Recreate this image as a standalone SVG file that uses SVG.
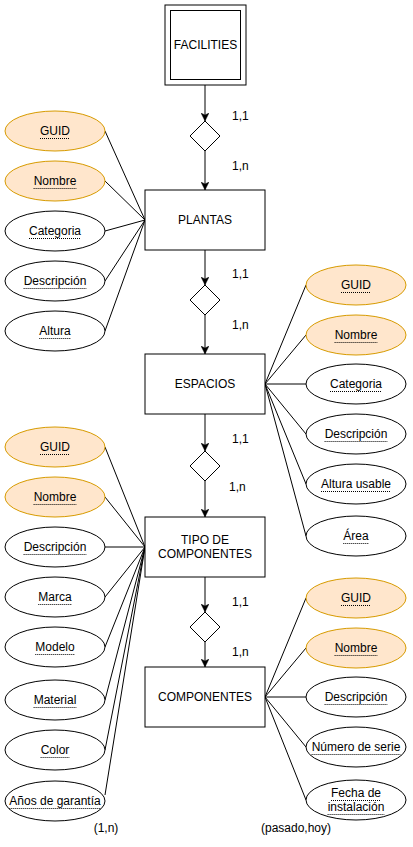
<svg xmlns="http://www.w3.org/2000/svg" width="413" height="847" viewBox="0 0 413 847">
<style>
  text { font-family: "Liberation Sans", Arial, sans-serif; font-size: 12px; fill: #000; text-anchor: middle; dominant-baseline: central; }
  .lbl { text-anchor: start; }
  .ul { stroke: #000; stroke-width: 1; stroke-dasharray: 1 1; fill: none; }
  .ent { fill: #fff; stroke: #000; stroke-width: 1; }
  .rel { fill: #fff; stroke: #000; stroke-width: 1; }
  .att { fill: #fff; stroke: #000; stroke-width: 1; }
  .key { fill: #ffe6cc; stroke: #d79b00; stroke-width: 1; }
  .edge { stroke: #000; stroke-width: 1; fill: none; }
  .arr { stroke: #000; stroke-width: 1; fill: none; marker-end: url(#ah); }
</style>
<defs>
  <marker id="ah" viewBox="0 0 10 10" refX="10" refY="5" markerWidth="8" markerHeight="8" markerUnits="userSpaceOnUse" orient="auto">
    <path d="M0,0 L10,5 L0,10 L2.5,5 Z" fill="#000" stroke="#000" stroke-width="0.5"/>
  </marker>
</defs>
<rect width="413" height="847" fill="#fff"/>

<g id="connectors">
  <path class="arr" d="M205,85 V121"/>
  <path class="arr" d="M205,151 V190"/>
  <path class="arr" d="M205,250 V285"/>
  <path class="arr" d="M205,315 V354"/>
  <path class="arr" d="M205,414 V451"/>
  <path class="arr" d="M205,481 V517"/>
  <path class="arr" d="M205,577 V612"/>
  <path class="arr" d="M205,642 V667"/>
  <path class="edge" d="M105,131 L145,220"/>
  <path class="edge" d="M105,181 L145,220"/>
  <path class="edge" d="M105,231 L145,220"/>
  <path class="edge" d="M105,281 L145,220"/>
  <path class="edge" d="M105,331 L145,220"/>
  <path class="edge" d="M265,384 L306,285"/>
  <path class="edge" d="M265,384 L306,335"/>
  <path class="edge" d="M265,384 L306,384"/>
  <path class="edge" d="M265,384 L306,434"/>
  <path class="edge" d="M265,384 L306,484"/>
  <path class="edge" d="M265,384 L306,536"/>
  <path class="edge" d="M105,447 L145,547"/>
  <path class="edge" d="M105,497 L145,547"/>
  <path class="edge" d="M105,547 L145,547"/>
  <path class="edge" d="M105,597 L145,547"/>
  <path class="edge" d="M105,647 L145,547"/>
  <path class="edge" d="M105,700 L145,547"/>
  <path class="edge" d="M105,750 L145,547"/>
  <path class="edge" d="M105,795 L145,547"/>
  <path class="edge" d="M265,697 L306,598"/>
  <path class="edge" d="M265,697 L306,648"/>
  <path class="edge" d="M265,697 L306,697"/>
  <path class="edge" d="M265,697 L306,747"/>
  <path class="edge" d="M265,697 L306,800"/>
</g>

<g id="labels">
  <text class="lbl" x="232" y="116">1,1</text>
  <text class="lbl" x="232" y="166">1,n</text>
  <text class="lbl" x="232" y="274">1,1</text>
  <text class="lbl" x="232" y="325">1,n</text>
  <text class="lbl" x="232" y="439">1,1</text>
  <text class="lbl" x="229" y="487">1,n</text>
  <text class="lbl" x="232" y="602">1,1</text>
  <text class="lbl" x="232" y="652">1,n</text>
  <text x="106" y="828">(1,n)</text>
  <text x="296" y="828">(pasado,hoy)</text>
</g>

<g id="facilities">
  <rect class="ent" x="165" y="5" width="81" height="80"/>
  <rect class="ent" x="170.5" y="10.5" width="70" height="69"/>
  <text x="205.5" y="45">FACILITIES</text>
</g>
<g id="rel1"><path class="rel" d="M205,121 L220,136 L205,151 L190,136 Z"/></g>
<g id="plantas">
  <rect class="ent" x="145" y="190" width="120" height="60"/>
  <text x="205" y="220">PLANTAS</text>
</g>
<g id="rel2"><path class="rel" d="M205,285 L220,300 L205,315 L190,300 Z"/></g>
<g id="espacios">
  <rect class="ent" x="145" y="354" width="120" height="60"/>
  <text x="205" y="384">ESPACIOS</text>
</g>
<g id="rel3"><path class="rel" d="M205,451 L220,466 L205,481 L190,466 Z"/></g>
<g id="tipo">
  <rect class="ent" x="145" y="517" width="120" height="60"/>
  <text x="205" y="540">TIPO DE</text>
  <text x="205" y="554">COMPONENTES</text>
</g>
<g id="rel4"><path class="rel" d="M205,612 L220,627 L205,642 L190,627 Z"/></g>
<g id="componentes">
  <rect class="ent" x="145" y="667" width="120" height="60"/>
  <text x="205" y="697">COMPONENTES</text>
</g>

<g id="p-guid"><ellipse class="key" cx="55" cy="131" rx="50" ry="20"/><text x="55" y="131">GUID</text><path class="ul" d="M40,138.5 h30"/></g>
<g id="p-nombre"><ellipse class="key" cx="55" cy="181" rx="50" ry="20"/><text x="55" y="181">Nombre</text><path class="ul" d="M33.6,188.5 h42.7"/></g>
<g id="p-categoria"><ellipse class="att" cx="55" cy="231" rx="50" ry="20"/><text x="55" y="231">Categoria</text><path class="ul" d="M29,238.5 h52"/></g>
<g id="p-descripcion"><ellipse class="att" cx="55" cy="281" rx="50" ry="20"/><text x="55" y="281">Descripción</text><path class="ul" d="M23.6,288.5 h62.7"/></g>
<g id="p-altura"><ellipse class="att" cx="55" cy="331" rx="50" ry="20"/><text x="55" y="331">Altura</text><path class="ul" d="M39.3,338.5 h31.3"/></g>

<g id="e-guid"><ellipse class="key" cx="356" cy="285" rx="50" ry="20"/><text x="356" y="285">GUID</text><path class="ul" d="M341,292.5 h30"/></g>
<g id="e-nombre"><ellipse class="key" cx="356" cy="335" rx="50" ry="20"/><text x="356" y="335">Nombre</text><path class="ul" d="M334.6,342.5 h42.7"/></g>
<g id="e-categoria"><ellipse class="att" cx="356" cy="384" rx="50" ry="20"/><text x="356" y="384">Categoria</text><path class="ul" d="M330,391.5 h52"/></g>
<g id="e-descripcion"><ellipse class="att" cx="356" cy="434" rx="50" ry="20"/><text x="356" y="434">Descripción</text><path class="ul" d="M324.6,441.5 h62.7"/></g>
<g id="e-altura"><ellipse class="att" cx="356" cy="484" rx="50" ry="20"/><text x="356" y="484">Altura usable</text><path class="ul" d="M321,491.5 h70"/></g>
<g id="e-area"><ellipse class="att" cx="356" cy="536" rx="50" ry="20"/><text x="356" y="536">Área</text><path class="ul" d="M343.3,543.5 h25.3"/></g>

<g id="t-guid"><ellipse class="key" cx="55" cy="447" rx="50" ry="20"/><text x="55" y="447">GUID</text><path class="ul" d="M40,454.5 h30"/></g>
<g id="t-nombre"><ellipse class="key" cx="55" cy="497" rx="50" ry="20"/><text x="55" y="497">Nombre</text><path class="ul" d="M33.6,504.5 h42.7"/></g>
<g id="t-descripcion"><ellipse class="att" cx="55" cy="547" rx="50" ry="20"/><text x="55" y="547">Descripción</text><path class="ul" d="M23.6,554.5 h62.7"/></g>
<g id="t-marca"><ellipse class="att" cx="55" cy="597" rx="50" ry="20"/><text x="55" y="597">Marca</text><path class="ul" d="M38.3,604.5 h33.3"/></g>
<g id="t-modelo"><ellipse class="att" cx="55" cy="647" rx="50" ry="20"/><text x="55" y="647">Modelo</text><path class="ul" d="M35.3,654.5 h39.3"/></g>
<g id="t-material"><ellipse class="att" cx="55" cy="700" rx="50" ry="20"/><text x="55" y="700">Material</text><path class="ul" d="M33.6,707.5 h42.7"/></g>
<g id="t-color"><ellipse class="att" cx="55" cy="750" rx="50" ry="20"/><text x="55" y="750">Color</text><path class="ul" d="M40.6,757.5 h28.7"/></g>
<g id="t-anos"><ellipse class="att" cx="55" cy="801" rx="50" ry="20"/><text x="55" y="801">Años de garantía</text><path class="ul" d="M9.3,808.5 h91.4"/></g>

<g id="c-guid"><ellipse class="key" cx="356" cy="598" rx="50" ry="20"/><text x="356" y="598">GUID</text><path class="ul" d="M341,605.5 h30"/></g>
<g id="c-nombre"><ellipse class="key" cx="356" cy="648" rx="50" ry="20"/><text x="356" y="648">Nombre</text><path class="ul" d="M334.6,655.5 h42.7"/></g>
<g id="c-descripcion"><ellipse class="att" cx="356" cy="697" rx="50" ry="20"/><text x="356" y="697">Descripción</text><path class="ul" d="M324.6,704.5 h62.7"/></g>
<g id="c-numero"><ellipse class="att" cx="356" cy="747" rx="50" ry="20"/><text x="356" y="747">Número de serie</text><path class="ul" d="M311.6,754.5 h88.7"/></g>
<g id="c-fecha"><ellipse class="att" cx="356" cy="800" rx="50" ry="20"/><text x="356" y="793">Fecha de</text><path class="ul" d="M331,800.5 h50"/><text x="356" y="807">instalación</text><path class="ul" d="M327.6,814.5 h56.7"/></g>
</svg>
